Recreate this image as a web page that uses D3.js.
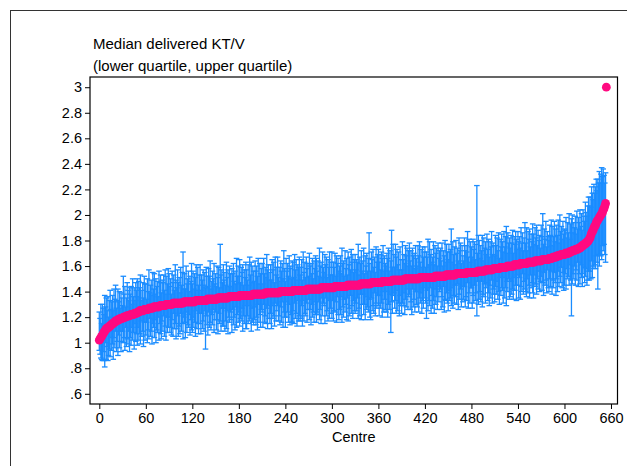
<!DOCTYPE html>
<html>
<head>
<meta charset="utf-8">
<script src="https://cdn.jsdelivr.net/npm/d3@7"></script>
<style>
  body { margin: 0; background: #fff; }
  text { font-family: "Liberation Sans", Arial, sans-serif; fill: #000; }
</style>
</head>
<body>
<svg id="chart" width="627" height="466"></svg>
<script>
// sorted centre medians, run-length: level -> how many centres share it
const medianLevels = [1.02,1.03,1.04,1.05,1.06,1.07,1.08,1.09,1.10,1.11,1.12,1.13,1.14,1.15,1.16,1.17,1.18,1.19,1.20,
  1.21,1.22,1.23,1.24,1.25,1.26,1.27,1.28,1.29,1.30,1.31,1.32,1.33,1.34,1.35,1.36,1.37,1.38,1.39,1.40,
  1.41,1.42,1.43,1.44,1.45,1.46,1.47,1.48,1.49,1.50,1.51,1.52,1.53,1.54,1.55,1.56,1.57,1.58,1.59,1.60,
  1.61,1.62,1.63,1.64,1.65,1.66,1.67,1.68,1.69,1.70,1.71,1.72,1.73,1.74,1.75,1.76,1.77,1.78,1.79,1.80,
  1.81,1.82,1.84,1.86,1.87,1.88,1.90,1.91,1.92,1.94,1.95,1.96,1.97,1.98,1.99,2.00,2.01,2.02,2.04,2.05,2.07,2.09,3.00];
const medianCounts = [1,1,1,1,1,1,1,1,1,2,2,2,2,2,2,3,3,4,4,
  5,5,4,3,6,6,6,8,8,9,14,15,15,14,14,14,17,16,19,17,
  18,18,18,16,17,14,14,13,16,19,20,14,13,14,14,10,10,9,9,9,
  8,10,9,9,9,5,5,5,6,5,4,4,4,3,2,2,2,2,2,1,
  1,1,1,1,1,1,1,1,1,1,1,1,1,1,1,1,1,1,1,1,1,1,1];

// distance from median to upper / lower quartile, one base-36 char per centre, unit 0.02
const upperGapCodes = [
  "b8d5ca7e9c 7c4ae69b5d 9e58c7b4a8 5g9c47da6b 8b4e7a5c9d",
  "6c9e48b5da a4c7f69b5e 7d5b8a4e9c 5a9c6e4b8e c7a4d8b5f9",
  "6d8a4e7ck5 b5e79c4a8f 7c5b9e4d6a e4a8c6b5d9 5c9f47b8e6",
  "a5d8c4l9b6 d7a5e8b4c9 4b9d6a5f8c 8e5b9c4a7d a6c4f8d5b9",
  "5d9b7e4c8a c4e8a6f9b5 8b5d9c4e7a e6a4c8b5g9 4d8b6e9a5c",
  "b5e8c4a9d6 9c4f7b5d8a 5e9a6c4b8d c7b5g9a4e8 6d9c4b8e5a",
  "e5a8d4c9b6 8c5f9a4e7b 4d8b6e9c5a c6a9g4b8d5 9e4b7c5ak8",
  "5c9d6a4e8b d8b5c9e4a7 6b9d4c8k5e a5e9c6b4d8 4f8a6d9c5b",
  "e7b5c9a4d8 5d9e6b4c8a c4a8f5e9b6 8e5c9b4d7a b6d4a8e5c9",
  "6c9ai5d8b4 d8a5e9c4b7 5e9b8g6d4c a6d9c5by7e c5a8e4d9b6",
  "e8c5b9f6a9 5d9c7e4b8d a6e8cg5d9b 7c9e5b8da6 d9b6e8c5ag",
  "8e5c9d6b8f b7d9e6c8a5 e9i6c8f5b9 7d9f5c8e6b c8e5g9b6d8",
  "a9e6c8f5bd e7b9d6f8ca f8d6eb9gca ehdgbifchd fhcgeidgie",
  "gd9c0"
];
const lowerGapCodes = [
  "4689a7be5c 7db9c5a8e6 a4c8e6b5d9 5a8d4c9b6e 9c5a7e4b8d",
  "6b9d4a8e5c a5d8c4b9e6 8c5e9a4d7b d6a4c8e5b9 5b9c6d4a8e",
  "a5d9c4b8e6 8e4c9a5d7b c6a8e4b9d5 9d5b8c4j6a e5b9c6a4d8",
  "5c8e6a9d4b b4d9c5e8a6 9e5b8d4c7a 6c9a5e8b4d d8b4a9e5bc",
  "a5c9e4b8d6 7d4b9c6e5a c8e5a9d4b7 5b9d6c4e8a e4a8c5d9cc",
  "8d5b9e4cac b6e4c9a5d8 4c8e6b9d5a d9a5c8e4b6 7e4b9d5c8a",
  "c5d9a6e4bd 9b4e8c5a7d 5e9c4b8d6a b7a5d9c4e8 4c8e5a9b6d",
  "e6b9c4d8a5 9d5a8e4c7b c4e9b5k8d6 5b8d4c9e6a d9a5e8b4c7",
  "6c9e4b8d5a b5d8a6e9c4 8ag5d9b4e7 c9e5b8d4a6 5d8c4e9a7b",
  "e6a9c5d8b4 9c4e8a6d5b a5d9b4e8c6 6e9c5b8h4d b8c4e9a5d7",
  "5c9e6b4d8a d7a5c9e4b8 9e4c8f6a5d c6b9d5a8e4 8d5e9b4c7a",
  "bd6c9e5a8c e5a9d7b4c8 6c9e5a8d4b d8b5e9c6af 9e6c8b5d7e",
  "c8e6a9d5bp d9b6e8c5fa e7cgb9fdah fcgdhbiegf hdgrejfgid",
  "gejn0"
];

const xTicks = [0, 60, 120, 180, 240, 300, 360, 420, 480, 540, 600, 660];
const yTicks = [0.6, 0.8, 1, 1.2, 1.4, 1.6, 1.8, 2, 2.2, 2.4, 2.6, 2.8, 3];
const titleLines = ['Median delivered KT/V', '(lower quartile, upper quartile)'];
const xTitle = 'Centre';

const medians = medianLevels.flatMap((v, i) => d3.range(medianCounts[i]).map(() => v));
const decode = codes => codes.join('').replace(/\s/g, '').split('').map(c => parseInt(c, 36) * 0.02);
const upGap = decode(upperGapCodes);
const loGap = decode(lowerGapCodes);

const centres = medians.map((m, i) => ({
  i: i,
  med: m,
  lo: m - (loGap[i] || 0),
  hi: m + (upGap[i] || 0)
}));

const svg = d3.select('#chart');
const plot = {left: 90, right: 617.5, top: 77, bottom: 404};

const x = d3.scaleLinear().domain([-12, 668.4]).range([plot.left, plot.right]);
const y = d3.scaleLinear().domain([0.52, 3.08]).range([plot.bottom, plot.top]);

svg.append('rect')
  .attr('width', 627).attr('height', 466).attr('fill', '#fff');

// outer graph region border
svg.append('rect')
  .attr('x', 10.5).attr('y', 10.5)
  .attr('width', 700).attr('height', 500)
  .attr('fill', 'none').attr('stroke', '#333').attr('stroke-width', 1);

svg.append('g')
  .selectAll('text')
  .data(titleLines)
  .enter().append('text')
  .attr('x', 93)
  .attr('y', (d, i) => 49 + i * 22)
  .attr('font-size', 15)
  .text(d => d);

const bars = svg.append('g')
  .attr('stroke', '#1a8cff')
  .attr('stroke-width', 1.3);

const withBars = centres.filter(d => d.hi > d.lo);

bars.selectAll('.stem')
  .data(withBars)
  .enter().append('line')
  .attr('class', 'stem')
  .attr('x1', d => x(d.i)).attr('x2', d => x(d.i))
  .attr('y1', d => y(d.lo)).attr('y2', d => y(d.hi));

bars.selectAll('.cap-hi')
  .data(withBars)
  .enter().append('line')
  .attr('class', 'cap-hi')
  .attr('x1', d => x(d.i) - 2.8).attr('x2', d => x(d.i) + 2.8)
  .attr('y1', d => y(d.hi)).attr('y2', d => y(d.hi));

bars.selectAll('.cap-lo')
  .data(withBars)
  .enter().append('line')
  .attr('class', 'cap-lo')
  .attr('x1', d => x(d.i) - 2.8).attr('x2', d => x(d.i) + 2.8)
  .attr('y1', d => y(d.lo)).attr('y2', d => y(d.lo));

svg.append('g')
  .selectAll('circle')
  .data(centres)
  .enter().append('circle')
  .attr('cx', d => x(d.i))
  .attr('cy', d => y(d.med))
  .attr('r', 4.4)
  .attr('fill', '#ff0a80');

// plot frame
svg.append('rect')
  .attr('x', plot.left).attr('y', plot.top)
  .attr('width', plot.right - plot.left).attr('height', plot.bottom - plot.top)
  .attr('fill', 'none').attr('stroke', '#000').attr('stroke-width', 1.2);

const yAxis = svg.append('g')
  .attr('transform', `translate(${plot.left},0)`)
  .call(d3.axisLeft(y).tickValues(yTicks).tickSize(5).tickPadding(3)
    .tickFormat(d => String(+d.toFixed(1)).replace(/^0\./, '.')));

const xAxis = svg.append('g')
  .attr('transform', `translate(0,${plot.bottom})`)
  .call(d3.axisBottom(x).tickValues(xTicks).tickSize(5).tickPadding(4));

[yAxis, xAxis].forEach(a => {
  a.select('.domain').remove();
  a.selectAll('text').attr('font-size', 14.5).attr('font-family', '"Liberation Sans", Arial, sans-serif').attr('fill', '#000');
  a.selectAll('line').attr('stroke', '#000');
});

svg.append('text')
  .attr('x', (plot.left + plot.right) / 2)
  .attr('y', 442)
  .attr('text-anchor', 'middle')
  .attr('font-size', 14.5)
  .text(xTitle);
</script>
</body>
</html>
